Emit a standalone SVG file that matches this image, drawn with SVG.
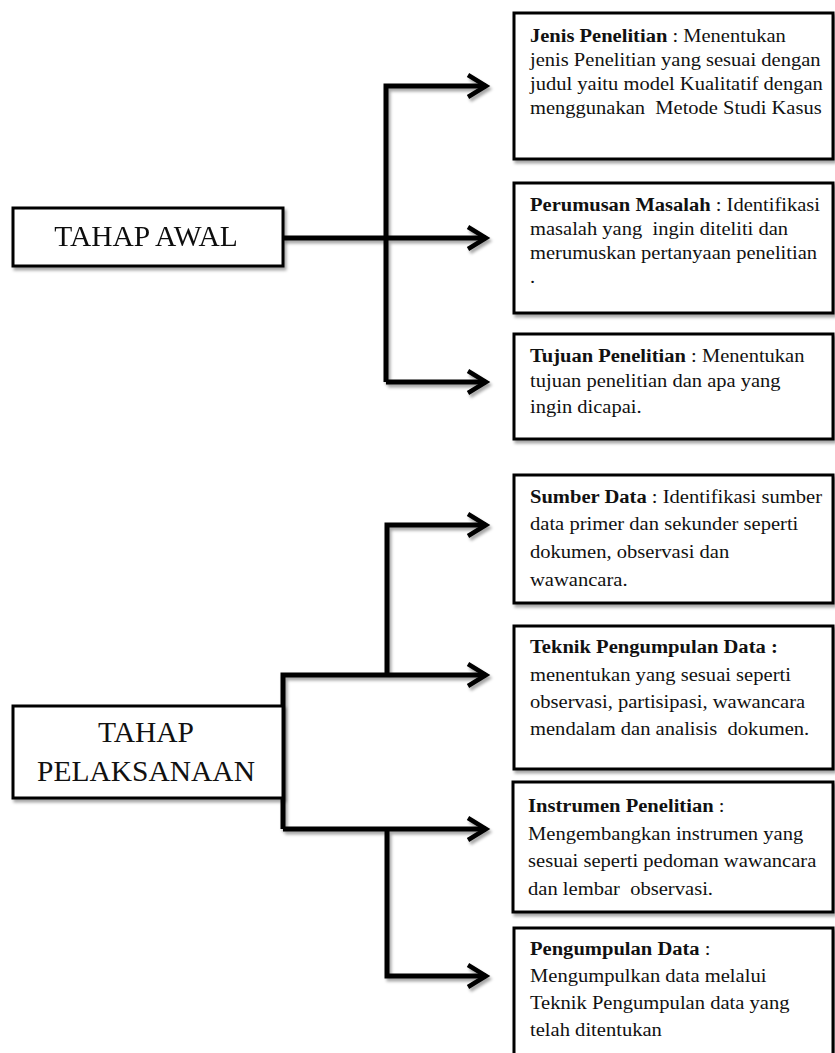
<svg xmlns="http://www.w3.org/2000/svg" width="835" height="1053" viewBox="0 0 835 1053">
<style>
.box{fill:#fff;stroke:#000;stroke-width:3}
.main{font-family:"Liberation Serif","Times New Roman",serif;font-size:29.5px;fill:#111;text-anchor:middle}
.t{font-family:"Liberation Serif","Times New Roman",serif;font-size:19px;fill:#111;white-space:pre}
.t2{font-family:"Liberation Serif","Times New Roman",serif;font-size:19.5px;fill:#111;white-space:pre}
.b{font-weight:bold}
.ln{fill:none;stroke:#000;stroke-width:5}
</style>
<defs>
<filter id="sh" x="-10%" y="-10%" width="130%" height="130%">
<feDropShadow dx="2" dy="3" stdDeviation="1.5" flood-color="#000" flood-opacity="0.35"/>
</filter>
<marker id="chev" markerUnits="userSpaceOnUse" markerWidth="26" markerHeight="30" viewBox="0 0 26 30" refX="21" refY="15" orient="auto">
<path d="M3,4 L21,15 L3,26" fill="none" stroke="#000" stroke-width="4.5"/>
</marker>
</defs>
<rect width="835" height="1053" fill="#fff"/>

<g id="connectors" filter="url(#sh)">
<path class="ln" d="M283,238 H486" marker-end="url(#chev)"/>
<path class="ln" d="M386,382 V86 H486" marker-end="url(#chev)"/>
<path class="ln" d="M386,382 H486" marker-end="url(#chev)"/>
<path class="ln" d="M283,829 V675 H486" marker-end="url(#chev)"/>
<path class="ln" d="M387,675 V525 H486" marker-end="url(#chev)"/>
<path class="ln" d="M283,829 H486" marker-end="url(#chev)"/>
<path class="ln" d="M387,829 V976 H486" marker-end="url(#chev)"/>
</g>

<g id="tahap-awal" filter="url(#sh)">
<rect class="box" x="13" y="208" width="270" height="58"/>
<text class="main" x="146" y="246">TAHAP AWAL</text>
</g>

<g id="tahap-pelaksanaan">
<rect class="box" x="13" y="706" width="270" height="92" filter="url(#sh)"/>
<text class="main" x="146" y="742">TAHAP</text>
<text class="main" x="146" y="781">PELAKSANAAN</text>
</g>

<g id="jenis-penelitian">
<rect class="box" x="514" y="13" width="319" height="146" filter="url(#sh)"/>
<g transform="translate(530 0) scale(1.08 1)">
<text class="t" x="0" y="42" xml:space="preserve"><tspan class="b">Jenis Penelitian</tspan> : Menentukan</text>
<text class="t" x="0" y="66" xml:space="preserve">jenis Penelitian yang sesuai dengan</text>
<text class="t" x="0" y="90" xml:space="preserve">judul yaitu model Kualitatif dengan</text>
<text class="t" x="0" y="114" xml:space="preserve">menggunakan  Metode Studi Kasus</text>
</g>
</g>

<g id="perumusan-masalah">
<rect class="box" x="514" y="183" width="319" height="130" filter="url(#sh)"/>
<g transform="translate(530 0) scale(1.08 1)">
<text class="t" x="0" y="211" xml:space="preserve"><tspan class="b">Perumusan Masalah</tspan> : Identifikasi</text>
<text class="t" x="0" y="235" xml:space="preserve">masalah yang  ingin diteliti dan</text>
<text class="t" x="0" y="259" xml:space="preserve">merumuskan pertanyaan penelitian</text>
<text class="t" x="0" y="283" xml:space="preserve">.</text>
</g>
</g>

<g id="tujuan-penelitian">
<rect class="box" x="514" y="334" width="319" height="105" filter="url(#sh)"/>
<g transform="translate(530 0) scale(1.08 1)">
<text class="t" x="0" y="362" xml:space="preserve"><tspan class="b">Tujuan Penelitian</tspan> : Menentukan</text>
<text class="t" x="0" y="387" xml:space="preserve">tujuan penelitian dan apa yang</text>
<text class="t" x="0" y="413" xml:space="preserve">ingin dicapai.</text>
</g>
</g>

<g id="sumber-data">
<rect class="box" x="514" y="475" width="319" height="128" filter="url(#sh)"/>
<g transform="translate(530 0) scale(1.055 1)">
<text class="t2" x="0" y="503" xml:space="preserve"><tspan class="b">Sumber Data</tspan> : Identifikasi sumber</text>
<text class="t2" x="0" y="530" xml:space="preserve">data primer dan sekunder seperti</text>
<text class="t2" x="0" y="558" xml:space="preserve">dokumen, observasi dan</text>
<text class="t2" x="0" y="586" xml:space="preserve">wawancara.</text>
</g>
</g>

<g id="teknik-pengumpulan-data">
<rect class="box" x="514" y="626" width="319" height="143" filter="url(#sh)"/>
<g transform="translate(530 0) scale(1.055 1)">
<text class="t2 b" x="0" y="653" xml:space="preserve">Teknik Pengumpulan Data :</text>
<text class="t2" x="0" y="681" xml:space="preserve">menentukan yang sesuai seperti</text>
<text class="t2" x="0" y="708" xml:space="preserve">observasi, partisipasi, wawancara</text>
<text class="t2" x="0" y="735" xml:space="preserve">mendalam dan analisis  dokumen.</text>
</g>
</g>

<g id="instrumen-penelitian">
<rect class="box" x="513" y="782" width="320" height="130" filter="url(#sh)"/>
<g transform="translate(528 0) scale(1.055 1)">
<text class="t2" x="0" y="812" xml:space="preserve"><tspan class="b">Instrumen Penelitian</tspan> :</text>
<text class="t2" x="0" y="840" xml:space="preserve">Mengembangkan instrumen yang</text>
<text class="t2" x="0" y="867" xml:space="preserve">sesuai seperti pedoman wawancara</text>
<text class="t2" x="0" y="895" xml:space="preserve">dan lembar  observasi.</text>
</g>
</g>

<g id="pengumpulan-data">
<rect class="box" x="514" y="928" width="319" height="140" filter="url(#sh)"/>
<g transform="translate(530 0) scale(1.055 1)">
<text class="t2" x="0" y="955" xml:space="preserve"><tspan class="b">Pengumpulan Data</tspan> :</text>
<text class="t2" x="0" y="982" xml:space="preserve">Mengumpulkan data melalui</text>
<text class="t2" x="0" y="1009" xml:space="preserve">Teknik Pengumpulan data yang</text>
<text class="t2" x="0" y="1036" xml:space="preserve">telah ditentukan</text>
</g>
</g>
</svg>
